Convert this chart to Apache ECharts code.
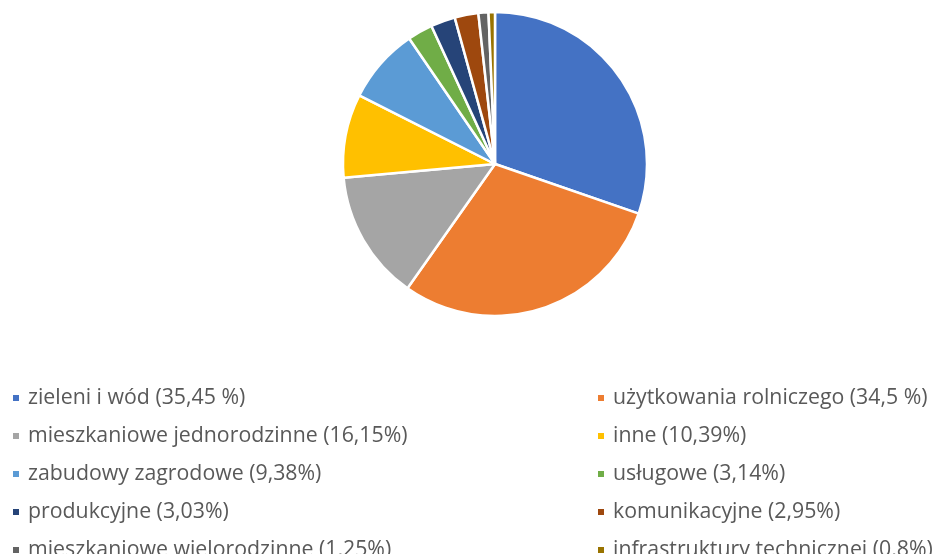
<!DOCTYPE html>
<html lang="pl">
  <head>
    <meta charset="UTF-8" />
    <title>Struktura terenów</title>
    <script src="https://cdn.jsdelivr.net/npm/echarts@6/dist/echarts.min.js"></script>
  </head>
  <body style="margin:0">
    <style>
      #chart {
        width: 933px;
        height: 554px;
        background: #fff;
      }
    </style>
    <div id="chart"></div>

    <script>
      const labels = [
        'zieleni i wód (35,45 %)',
        'użytkowania rolniczego (34,5 %)',
        'mieszkaniowe jednorodzinne (16,15%)',
        'inne (10,39%)',
        'zabudowy zagrodowe (9,38%)',
        'usługowe (3,14%)',
        'produkcyjne (3,03%)',
        'komunikacyjne (2,95%)',
        'mieszkaniowe wielorodzinne (1,25%)',
        'infrastruktury technicznej (0,8%)'
      ];
      const values = [35.45, 34.5, 16.15, 10.39, 9.38, 3.14, 3.03, 2.95, 1.25, 0.8];
      const colors = ['#4472C4', '#ED7D31', '#A5A5A5', '#FFC000', '#5B9BD5',
        '#70AD47', '#264478', '#9E480E', '#636363', '#997300'];

      const chart = echarts.init(document.getElementById('chart'));

      // legend is two columns: even indexes left, odd right
      const leftNames = labels.filter((_, i) => i % 2 === 0);
      const rightNames = labels.filter((_, i) => i % 2 === 1);

      const legendBase = {
        orient: 'vertical',
        top: 387,
        height: 260,
        icon: 'rect',
        itemWidth: 8,
        itemHeight: 8,
        itemGap: 16,
        textStyle: {
          fontFamily: 'Open Sans',
          fontSize: 21.3,
          color: '#595959',
          lineHeight: 22,
          padding: [0, 0, 0, 3]
        },
        padding: 0
      };

      chart.setOption({
        animation: false,
        color: colors,
        legend: [
          Object.assign({}, legendBase, { left: 11, data: leftNames }),
          Object.assign({}, legendBase, { left: 596, data: rightNames })
        ],
        series: [
          {
            type: 'pie',
            center: [495, 164],
            radius: [0, 152],
            startAngle: 90,
            clockwise: true,
            label: { show: false },
            labelLine: { show: false },
            itemStyle: { borderColor: '#fff', borderWidth: 2.5 },
            data: labels.map((name, i) => ({ name, value: values[i] }))
          }
        ]
      });
    </script>
  </body>
</html>
